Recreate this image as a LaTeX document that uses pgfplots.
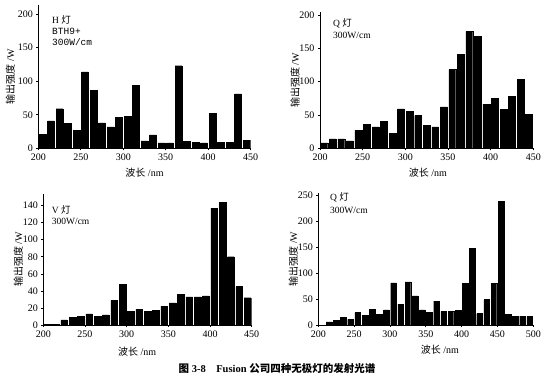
\documentclass[border=0pt]{standalone}
\usepackage{fontspec}
\setmainfont{Liberation Serif}
\newfontfamily\cjk{Noto Sans CJK SC}
\newfontfamily\monof{Liberation Mono}
\usepackage{pgfplots}
\pgfplotsset{compat=1.18}
\pgfplotsset{
  panel/.style={
    scale only axis,
    axis x line*=bottom, axis y line*=left,
    axis line style={-, line width=0.7pt},
    ybar, bar width=8, bar shift=0pt,
    xmin=200,
    ymin=0,
    tick align=outside, major tick length=2pt,
    tick style={line width=0.6pt, black},
    /pgf/number format/assume math mode=true,
    tick label style={font=\fontsize{10}{11}\selectfont},
    xtick distance=50,
    ylabel={{\cjk 输出强度} /W},
    xlabel={{\cjk 波长} /nm},
    label style={font=\fontsize{10}{11}\selectfont},
  },
  barstyle/.style={fill=black, draw=black, line width=0.3pt},
}
\begin{document}
\begin{tikzpicture}[x=1pt,y=1pt]
\path[use as bounding box] (0,0) rectangle (550,380);

% Panel 1: H lamp
\begin{axis}[panel, at={(38.3pt,231.7pt)}, anchor=south west,
  width=212.4pt, height=143pt, xmax=450, ymax=213,
  ytick={0,50,100,150,200},
  ylabel style={at={(axis description cs:-0.132,0.5)}, anchor=center},
  xlabel style={at={(axis description cs:0.5,0)}, anchor=center, yshift=-24pt}]
\addplot[barstyle] coordinates {(205,21) (215,41) (225,59) (235,37) (245,27) (255,114) (265,86) (275,38) (285,32) (295,46) (305,48) (315,94) (325,11) (335,20) (345,8) (355,8) (365,123) (375,10) (385,9) (395,8) (405,52) (415,9) (425,9) (435,81) (445,12)};
\end{axis}

% Panel 2: Q lamp
\begin{axis}[panel, at={(320pt,231.7pt)}, anchor=south west,
  width=213.3pt, height=136pt, xmax=450, ymax=204,
  ytick={0,50,100,150,200},
  ylabel style={at={(axis description cs:-0.117,0.5)}, anchor=center},
  xlabel style={at={(axis description cs:0.506,0)}, anchor=center, yshift=-24pt}]
\addplot[barstyle] coordinates {(205,8) (215,14) (225,14) (235,11) (245,27) (255,36) (265,32) (275,40) (285,22) (295,59) (305,55) (315,49) (325,34) (335,32) (345,62) (355,118) (365,141) (375,175) (385,168) (395,66) (405,75) (415,58) (425,78) (435,103) (445,51)};
\end{axis}

% Panel 3: V lamp
\begin{axis}[panel, at={(43.3pt,55pt)}, anchor=south west,
  width=208.4pt, height=131.4pt, xmax=450, ymax=154,
  ytick={0,20,40,60,80,100,120,140},
  ylabel style={at={(axis description cs:-0.12,0.5)}, anchor=center},
  xlabel style={at={(axis description cs:0.45,0)}, anchor=center, yshift=-27pt}]
\addplot[barstyle] coordinates {(205,1) (215,1) (225,6) (235,9) (245,10) (255,13) (265,10) (275,12) (285,29) (295,48) (305,16) (315,18) (325,16) (335,17) (345,22) (355,26) (365,36) (375,33) (385,33) (395,34) (405,137) (415,144) (425,80) (435,45) (445,32)};
\end{axis}

% Panel 4: Q lamp
\begin{axis}[panel, at={(318.3pt,55pt)}, anchor=south west,
  width=215pt, height=132pt, xmax=500, ymax=254,
  ytick={0,50,100,150,200,250},
  ylabel style={at={(axis description cs:-0.116,0.5)}, anchor=center},
  xlabel style={at={(axis description cs:0.566,0)}, anchor=center, yshift=-25pt}]
\addplot[barstyle] coordinates {(215,6) (225,9) (235,15) (245,11) (255,24) (265,18) (275,30) (285,21) (295,29) (305,81) (315,40) (325,83) (335,56) (345,29) (355,25) (365,46) (375,26) (385,26) (395,28) (405,80) (415,147) (425,22) (435,49) (445,80) (455,238) (465,20) (475,17) (485,17) (495,17)};
\end{axis}

% Annotations
\begin{scope}[every node/.style={anchor=base west, inner sep=0pt, font=\fontsize{9.5}{10}\selectfont}]
\node at (52,356.7) {H {\cjk 灯}};
\node at (52,345.7) {\monof BTH9+};
\node at (52,334.3) {\monof 300W/cm};
\node at (333,353.3) {Q {\cjk 灯}};
\node at (333,341) {300W/cm};
\node at (51.7,166.7) {V {\cjk 灯}};
\node at (51.7,155.7) {300W/cm};
\node at (330,179.3) {Q {\cjk 灯}};
\node at (330,166.7) {300W/cm};
\end{scope}

\node[font=\fontsize{10.5}{11}\selectfont\bfseries] at (277,12) {{\cjk 图} 3-8\quad Fusion {\cjk 公司四种无极灯的发射光谱}};
\end{tikzpicture}
\end{document}
